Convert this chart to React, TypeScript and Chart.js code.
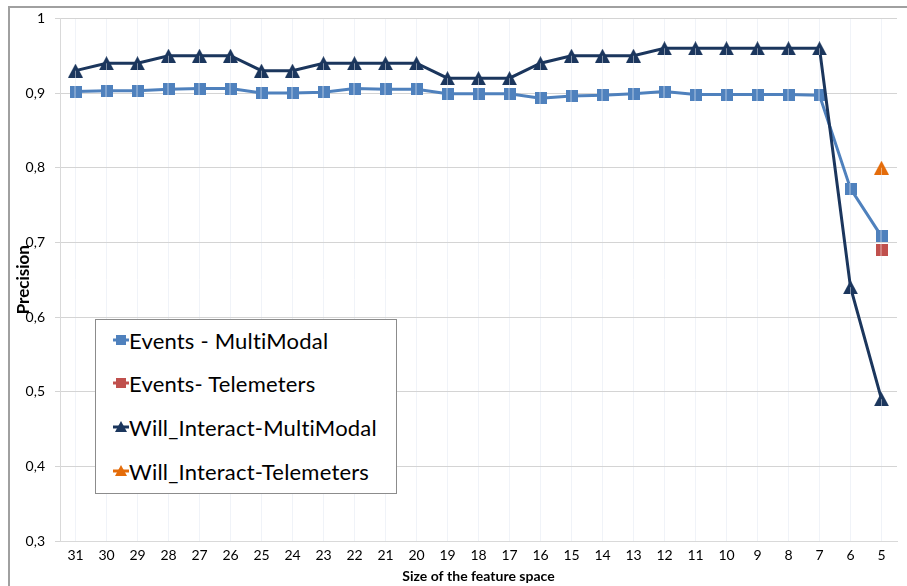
import React, { useEffect, useRef } from "react";
import { Chart, registerables } from "chart.js";

Chart.register(...registerables);

const categories = ["31","30","29","28","27","26","25","24","23","22","21","20","19","18","17","16","15","14","13","12","11","10","9","8","7","6","5"];

const eventsMultiModal = [0.902,0.903,0.903,0.905,0.906,0.906,0.900,0.900,0.901,0.906,0.905,0.905,0.899,0.899,0.899,0.893,0.896,0.897,0.899,0.902,0.898,0.898,0.898,0.898,0.897,0.772,0.708];
const eventsTelemeters = [null,null,null,null,null,null,null,null,null,null,null,null,null,null,null,null,null,null,null,null,null,null,null,null,null,null,0.690];
const willInteractMultiModal = [0.93,0.94,0.94,0.95,0.95,0.95,0.93,0.93,0.94,0.94,0.94,0.94,0.92,0.92,0.92,0.94,0.95,0.95,0.95,0.96,0.96,0.96,0.96,0.96,0.96,0.64,0.49];
const willInteractTelemeters = [null,null,null,null,null,null,null,null,null,null,null,null,null,null,null,null,null,null,null,null,null,null,null,null,null,null,0.80];

const seriesNames = ["Events - MultiModal","Events- Telemeters","Will_Interact-MultiModal","Will_Interact-Telemeters"];
const seriesColors = ["#4F81BD","#C0504D","#1B365D","#E46C0A"];
const seriesShapes = ["square","square","triangle","triangle"];

const yTicks = [0.3,0.4,0.5,0.6,0.7,0.8,0.9,1];

const FONT = "Lato, 'Open Sans', sans-serif";

function makeMarker(shape: string, color: string): HTMLCanvasElement {
  const c = document.createElement("canvas");
  if (shape === "square") {
    c.width = 12; c.height = 12;
    const ctx = c.getContext("2d")!;
    ctx.fillStyle = color;
    ctx.fillRect(0, 0, 12, 12);
    ctx.fillStyle = "rgba(255,255,255,0.55)";
    ctx.fillRect(5, 0, 1, 12);
  } else {
    c.width = 15; c.height = 14;
    const ctx = c.getContext("2d")!;
    ctx.fillStyle = color;
    ctx.beginPath();
    ctx.moveTo(7.5, 0);
    ctx.lineTo(15, 14);
    ctx.lineTo(0, 14);
    ctx.closePath();
    ctx.fill();
    ctx.fillStyle = "rgba(255,255,255,0.45)";
    ctx.fillRect(7, 7, 1, 7);
  }
  return c;
}

function LegendMarker({ shape, color }: { shape: string; color: string }) {
  return (
    <svg width="16" height="14" style={{ display: "block" }}>
      <line x1="0" y1="7" x2="16" y2="7" stroke={color} strokeWidth="3" />
      {shape === "square" ? (
        <rect x="3" y="2" width="10" height="10" fill={color} />
      ) : (
        <polygon points="8,1 14,12 2,12" fill={color} />
      )}
    </svg>
  );
}

export default function App() {
  const ref = useRef<HTMLCanvasElement | null>(null);

  useEffect(() => {
    if (!ref.current) return;
    const dataArrays = [eventsMultiModal, eventsTelemeters, willInteractMultiModal, willInteractTelemeters];
    const datasets = dataArrays.map((d, i) => ({
      label: seriesNames[i],
      data: d,
      borderColor: seriesColors[i],
      backgroundColor: seriesColors[i],
      borderWidth: 3,
      pointStyle: makeMarker(seriesShapes[i], seriesColors[i]),
      pointRadius: 7,
      order: i === 2 ? 0 : 1,
      spanGaps: false,
    }));

    const chart = new Chart(ref.current, {
      type: "line",
      data: { labels: categories, datasets: datasets as any },
      options: {
        animation: false,
        responsive: false,
        devicePixelRatio: 1,
        layout: { padding: { top: 16, right: 6, left: 0, bottom: 0 } },
        plugins: {
          legend: { display: false },
          tooltip: { enabled: false },
        },
        scales: {
          x: {
            offset: true,
            grid: { color: "#f0f3f8", drawTicks: false, lineWidth: 1 },
            border: { color: "#d9d9d9" },
            ticks: { font: { family: FONT, size: 14 }, color: "#000", padding: 6, maxRotation: 0, autoSkip: false },
            title: { display: true, text: "Size of the feature space", font: { family: FONT, size: 14, weight: "bold" }, color: "#000", padding: { top: 2, bottom: 1 } },
            afterFit: (s: any) => { s.height = 45; },
          },
          y: {
            min: 0.3,
            max: 1,
            afterBuildTicks: (s: any) => { s.ticks = yTicks.map((v) => ({ value: v })); },
            grid: { color: "#d4d4d4", tickLength: 5 },
            border: { color: "#d9d9d9" },
            ticks: {
              font: { family: FONT, size: 14 },
              color: "#000",
              padding: 10,
              callback: (v: any) => String(Math.round(Number(v) * 10) / 10).replace(".", ","),
            },
            title: { display: true, text: "Precision", font: { family: FONT, size: 17, weight: "bold" }, color: "#000", padding: { top: 13, bottom: 0 } },
            afterFit: (s: any) => { s.width = 60; },
          },
        },
      },
    });
    return () => chart.destroy();
  }, []);

  const rowTops = [320, 363, 407, 451];

  return (
    <div style={{ position: "fixed", left: 0, top: 0, width: 907, height: 586, background: "#fff", overflow: "hidden" }}>
      <canvas ref={ref} width={907} height={586} style={{ position: "absolute", left: 0, top: 0, width: 907, height: 586 }} />
      <div style={{ position: "absolute", left: 8, top: 6, width: 920, height: 600, borderLeft: "2px solid #a0a0a0", borderTop: "2px solid #a0a0a0", pointerEvents: "none" }} />
      <div style={{ position: "absolute", left: 95, top: 319, width: 300, height: 173, border: "1px solid #8c8c8c", background: "#fff" }}>
        {seriesNames.map((name, i) => (
          <div key={name} style={{ position: "absolute", left: 17, top: rowTops[i] - 319, height: 38, display: "flex", alignItems: "center", fontFamily: FONT, fontSize: 22, letterSpacing: 0.2, fontVariantLigatures: "none", color: "#000", whiteSpace: "nowrap" }}>
            <LegendMarker shape={seriesShapes[i]} color={seriesColors[i]} />
            <span>{name}</span>
          </div>
        ))}
      </div>
    </div>
  );
}
